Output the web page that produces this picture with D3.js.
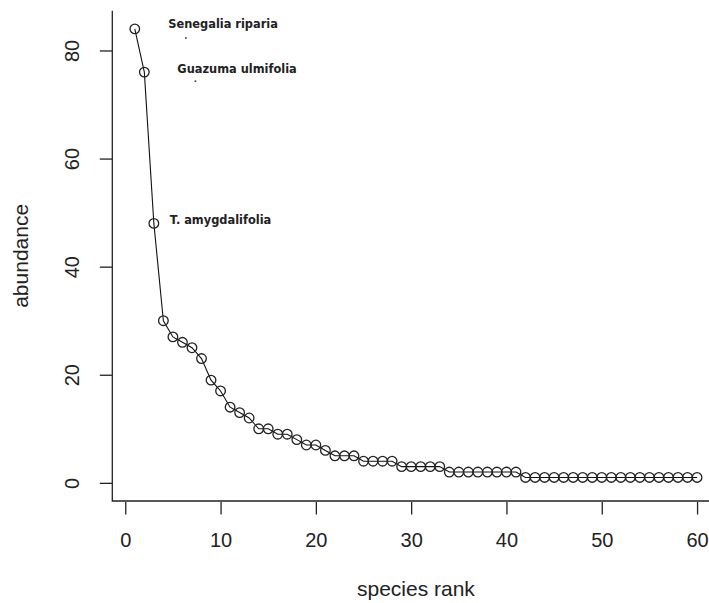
<!DOCTYPE html>
<html><head><meta charset="utf-8">
<script src="https://cdn.jsdelivr.net/npm/d3@7"></script>
<style>body{margin:0;background:#fff}svg{display:block}</style>
</head><body><svg id="chart" width="709" height="603"></svg>
<script>
// ---- data ----
const abundance = [84,76,48,30,27,26,25,23,19,17,
                   14,13,12,10,10,9,9,8,7,7,
                   6,5,5,5,4,4,4,4,3,3,
                   3,3,3,2,2,2,2,2,2,2,
                   2,1,1,1,1,1,1,1,1,1,
                   1,1,1,1,1,1,1,1,1,1];
const xTicks = [0,10,20,30,40,50,60];
const yTicks = [0,20,40,60,80];
const annotLabels = ["Senegalia riparia","Guazuma ulmifolia","T. amygdalifolia"];
const annotRanks = [1,2,3];
const annotHasDot = [true,true,false];
const xTitle = "species rank";
const yTitle = "abundance";

// ---- drawing ----
(function(){
const data = abundance.map((v,i)=>({rank:i+1, value:v}));
const svg = d3.select("#chart");
const pLeft = 112.3, pTop = 10.7, pBottom = 501;
const xDom = [1 - 0.04*59, 60 + 0.04*59];
const yDom = [0 - 0.04*84, 84 + 0.04*84];
const pxPerX = 9.53;
const x = d3.scaleLinear().domain(xDom).range([pLeft, pLeft + (xDom[1]-xDom[0])*pxPerX]);
const y = d3.scaleLinear().domain(yDom).range([pBottom, pTop]);
const ink = "#222";
const font = "'Liberation Sans', Arial, Helvetica, sans-serif";

// box (L-shaped)
svg.append("path").attr("d", `M${pLeft},${pTop}V${pBottom}H${x.range()[1]}`)
  .attr("fill","none").attr("stroke",ink).attr("stroke-width",1.3);

// y axis
const yAxis = svg.append("g").attr("transform",`translate(${pLeft},0)`)
  .call(d3.axisLeft(y).tickValues(yTicks).tickSize(12.5).tickSizeOuter(0).tickFormat(d3.format("d")));
yAxis.select(".domain").remove();
yAxis.selectAll(".tick line").attr("stroke",ink).attr("stroke-width",1.3);
yAxis.selectAll(".tick text").attr("x",null).attr("dy",null)
  .attr("transform","translate(-33,0) rotate(-90)")
  .attr("text-anchor","middle").attr("font-family",font).attr("font-size",20).attr("fill",ink);

// x axis
const xAxis = svg.append("g").attr("transform",`translate(0,${pBottom+1})`)
  .call(d3.axisBottom(x).tickValues(xTicks).tickSize(12.5).tickSizeOuter(0).tickFormat(d3.format("d")));
xAxis.select(".domain").remove();
xAxis.selectAll(".tick line").attr("stroke",ink).attr("stroke-width",1.3);
xAxis.selectAll(".tick text").attr("y",45).attr("dy",null)
  .attr("font-family",font).attr("font-size",20).attr("fill",ink);

// titles
svg.append("text").attr("x",(x.range()[0]+x.range()[1])/2).attr("y",596)
  .attr("text-anchor","middle").attr("font-family",font).attr("font-size",21).attr("fill",ink).text(xTitle);
svg.append("text").attr("transform",`translate(27.5,${(pTop+pBottom)/2}) rotate(-90)`)
  .attr("text-anchor","middle").attr("font-family",font).attr("font-size",21).attr("fill",ink).text(yTitle);

// line
svg.append("path").datum(data)
  .attr("d", d3.line().x(d=>x(d.rank)).y(d=>y(d.value)))
  .attr("fill","none").attr("stroke","#111").attr("stroke-width",1.1);

// points
svg.append("g").selectAll("circle").data(data).join("circle")
  .attr("cx",d=>x(d.rank)).attr("cy",d=>y(d.value)).attr("r",4.8)
  .attr("fill","none").attr("stroke","#222").attr("stroke-width",1.3);

// annotations
const textDx = [33.5, 33, 16];
const textDy = [-1, 1, 0.5];
annotLabels.forEach((lab,i)=>{
  const d = data[annotRanks[i]-1];
  const px = x(d.rank), py = y(d.value);
  svg.append("text").attr("x",px+textDx[i]).attr("y",py+textDy[i])
    .attr("font-family","'DejaVu Sans', sans-serif").attr("font-weight","bold")
    .attr("font-size",11.4).attr("fill","#222").text(lab);
  if (annotHasDot[i]) {
    svg.append("rect").attr("x",px+50.3).attr("y",py+8.3).attr("width",1.6).attr("height",1.6).attr("fill","#333");
  }
});
})();
</script></body></html>
